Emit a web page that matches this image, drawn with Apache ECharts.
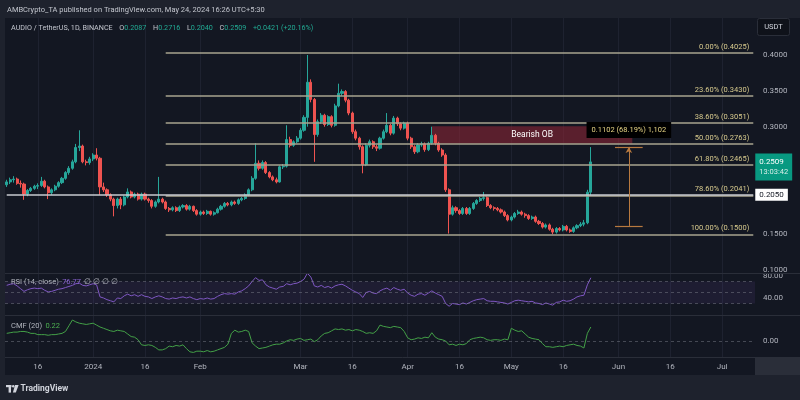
<!DOCTYPE html>
<html><head><meta charset="utf-8">
<script src="https://cdn.jsdelivr.net/npm/echarts@6/dist/echarts.min.js"></script>
<style>html,body{margin:0;padding:0;background:#1e222d;}#c{width:800px;height:400px;}</style>
</head><body><div id="c"></div>
<script>
// ---------- DATA ----------
const startDate = '2023-12-07';
const totalDays = 217; // visible daily slots (Dec 7 2023 .. Jul 10 2024)
const xTickDates = ['2023-12-16','2024-01-01','2024-01-16','2024-02-01','2024-03-01','2024-03-16','2024-04-01','2024-04-16','2024-05-01','2024-05-16','2024-06-01','2024-06-16','2024-07-01'];
const xTickLabels = ['16','2024','16','Feb','Mar','16','Apr','16','May','16','Jun','16','Jul'];

// [open, close, low, high]
const candles = [
[0.219,0.223,0.216,0.226],[0.223,0.226,0.220,0.229],[0.226,0.227,0.222,0.231],[0.227,0.221,0.219,0.229],[0.221,0.220,0.215,0.225],
[0.220,0.206,0.198,0.222],[0.206,0.211,0.203,0.213],[0.211,0.214,0.209,0.216],[0.214,0.217,0.212,0.219],[0.217,0.218,0.213,0.221],
[0.218,0.224,0.216,0.230],[0.224,0.216,0.214,0.226],[0.216,0.208,0.199,0.218],[0.208,0.212,0.205,0.214],[0.212,0.217,0.210,0.219],
[0.217,0.222,0.215,0.224],[0.222,0.228,0.220,0.230],[0.228,0.236,0.226,0.238],[0.236,0.242,0.233,0.245],[0.242,0.251,0.240,0.254],
[0.251,0.271,0.249,0.276],[0.271,0.273,0.266,0.295],[0.273,0.251,0.249,0.275],[0.251,0.250,0.246,0.254],[0.250,0.255,0.247,0.258],
[0.255,0.2605,0.252,0.263],[0.2605,0.256,0.253,0.270],[0.256,0.216,0.205,0.258],[0.216,0.212,0.209,0.222],[0.212,0.205,0.202,0.214],
[0.205,0.199,0.196,0.207],[0.199,0.190,0.175,0.201],[0.190,0.199,0.186,0.201],[0.199,0.191,0.185,0.202],[0.191,0.202,0.189,0.204],
[0.202,0.209,0.200,0.214],[0.209,0.202,0.200,0.211],[0.202,0.206,0.200,0.208],[0.206,0.199,0.197,0.208],[0.199,0.206,0.197,0.208],
[0.206,0.199,0.197,0.208],[0.199,0.197,0.194,0.201],[0.197,0.189,0.186,0.199],[0.189,0.195,0.187,0.197],[0.195,0.199,0.193,0.230],
[0.199,0.195,0.193,0.201],[0.195,0.186,0.184,0.197],[0.186,0.184,0.181,0.188],[0.184,0.187,0.182,0.189],[0.187,0.183,0.181,0.189],
[0.183,0.188,0.181,0.190],[0.188,0.190,0.186,0.192],[0.190,0.185,0.183,0.192],[0.185,0.189,0.183,0.191],[0.189,0.183,0.181,0.190],
[0.183,0.178,0.176,0.185],[0.178,0.181,0.176,0.183],[0.181,0.179,0.177,0.183],[0.179,0.182,0.177,0.184],[0.182,0.178,0.176,0.183],
[0.178,0.180,0.176,0.182],[0.180,0.185,0.179,0.187],[0.185,0.189,0.183,0.191],[0.189,0.193,0.187,0.195],[0.193,0.191,0.189,0.195],
[0.191,0.195,0.189,0.197],[0.195,0.193,0.191,0.197],[0.193,0.198,0.191,0.200],[0.198,0.200,0.196,0.202],[0.200,0.205,0.198,0.207],
[0.205,0.212,0.203,0.214],[0.212,0.228,0.210,0.231],[0.228,0.249,0.226,0.277],[0.249,0.242,0.239,0.253],[0.242,0.250,0.240,0.253],
[0.250,0.236,0.234,0.252],[0.236,0.230,0.228,0.238],[0.230,0.226,0.224,0.232],[0.226,0.223,0.221,0.229],[0.223,0.244,0.222,0.246],
[0.244,0.245,0.241,0.248],[0.245,0.282,0.243,0.302],[0.282,0.274,0.271,0.286],[0.274,0.279,0.272,0.281],[0.279,0.284,0.277,0.287],
[0.284,0.295,0.282,0.298],[0.295,0.313,0.293,0.316],[0.313,0.362,0.300,0.400],[0.362,0.338,0.334,0.366],[0.338,0.289,0.251,0.340],
[0.289,0.307,0.286,0.310],[0.307,0.316,0.304,0.319],[0.316,0.303,0.300,0.318],[0.303,0.314,0.301,0.316],[0.314,0.302,0.299,0.316],
[0.302,0.329,0.300,0.332],[0.329,0.3465,0.327,0.360],[0.3465,0.349,0.343,0.352],[0.349,0.337,0.334,0.351],[0.337,0.319,0.316,0.339],
[0.319,0.293,0.290,0.321],[0.293,0.284,0.281,0.296],[0.284,0.272,0.268,0.286],[0.272,0.247,0.235,0.274],[0.247,0.274,0.245,0.277],
[0.274,0.279,0.271,0.282],[0.279,0.272,0.269,0.281],[0.272,0.270,0.266,0.275],[0.270,0.284,0.268,0.286],[0.284,0.293,0.282,0.296],
[0.293,0.302,0.291,0.319],[0.302,0.291,0.288,0.304],[0.291,0.312,0.289,0.315],[0.312,0.304,0.301,0.314],[0.304,0.298,0.295,0.306],
[0.298,0.305,0.296,0.307],[0.305,0.284,0.281,0.307],[0.284,0.272,0.269,0.286],[0.272,0.265,0.262,0.274],[0.265,0.2745,0.263,0.277],
[0.2745,0.276,0.272,0.279],[0.276,0.268,0.265,0.278],[0.268,0.277,0.266,0.279],[0.277,0.288,0.275,0.300],[0.288,0.277,0.274,0.290],
[0.277,0.2675,0.265,0.279],[0.2675,0.2605,0.258,0.270],[0.2605,0.212,0.209,0.263],[0.212,0.178,0.151,0.214],[0.178,0.187,0.176,0.190],
[0.187,0.183,0.180,0.189],[0.183,0.179,0.177,0.185],[0.179,0.186,0.177,0.188],[0.186,0.179,0.177,0.188],[0.179,0.186,0.177,0.188],
[0.186,0.193,0.184,0.195],[0.193,0.197,0.191,0.199],[0.197,0.200,0.195,0.202],[0.200,0.201,0.197,0.209],[0.201,0.190,0.188,0.203],
[0.190,0.187,0.185,0.192],[0.187,0.186,0.183,0.189],[0.186,0.184,0.182,0.188],[0.184,0.181,0.179,0.186],[0.181,0.176,0.174,0.183],
[0.176,0.170,0.168,0.178],[0.170,0.174,0.168,0.176],[0.174,0.179,0.172,0.181],[0.179,0.181,0.177,0.184],[0.181,0.178,0.176,0.183],
[0.178,0.176,0.173,0.180],[0.176,0.172,0.170,0.178],[0.172,0.174,0.170,0.176],[0.174,0.168,0.166,0.176],[0.168,0.165,0.163,0.170],
[0.165,0.160,0.158,0.167],[0.160,0.163,0.158,0.165],[0.163,0.157,0.155,0.165],[0.157,0.153,0.150,0.159],[0.153,0.158,0.151,0.160],
[0.158,0.156,0.154,0.160],[0.156,0.161,0.154,0.163],[0.161,0.156,0.154,0.163],[0.156,0.154,0.152,0.158],[0.154,0.159,0.152,0.161],
[0.159,0.162,0.157,0.164],[0.162,0.164,0.160,0.167],[0.164,0.166,0.161,0.170],[0.166,0.2087,0.164,0.212],[0.2087,0.2509,0.2040,0.2716]
];

const rsi = [
63,65,66,62,57,52,55,57,58,57,
58,54,51,52,54,56,57,59,61,63,
66,67,63,62,64,66,64,42,40,37,
35,33,40,39,44,47,44,46,43,46,
43,42,39,42,44,42,39,38,40,39,
41,42,40,42,39,37,39,38,40,38,
39,43,46,48,47,48,47,51,53,57,
62,70,77,72,73,64,60,58,56,60,
61,66,64,66,67,70,74,85,78,62,
60,63,59,61,58,62,64,65,62,58,
54,51,48,41,50,52,49,48,53,56,
58,54,59,56,54,56,49,45,43,47,
48,45,49,53,49,46,43,30,25,30,
29,28,31,29,32,35,37,38,39,35,
34,34,33,32,31,29,32,35,36,35,
34,33,34,31,30,28,31,29,27,32,
33,36,34,35,38,42,44,45,64,76.77
];

const cmf = [
0.12,0.13,0.14,0.14,0.15,0.15,0.14,0.12,0.12,0.10,
0.10,0.10,0.09,0.10,0.10,0.11,0.12,0.15,0.24,0.33,
0.30,0.28,0.27,0.26,0.27,0.28,0.25,0.22,0.20,0.18,
0.16,0.15,0.17,0.16,0.15,0.11,0.07,0.06,0.02,-0.06,
-0.07,-0.06,-0.07,-0.10,-0.14,-0.14,-0.12,-0.08,-0.09,-0.07,
-0.08,-0.06,-0.12,-0.17,-0.18,-0.16,-0.16,-0.17,-0.15,-0.17,
-0.16,-0.14,-0.12,-0.10,-0.05,0.12,0.17,0.14,0.15,0.17,
0.15,-0.03,-0.08,-0.12,-0.11,-0.10,-0.08,-0.06,-0.05,-0.05,
-0.03,0.00,0.02,0.01,0.03,0.04,0.01,0.02,0.03,-0.01,
0.02,0.08,0.12,0.13,0.16,0.19,0.18,0.19,0.17,0.18,
0.16,0.18,0.17,0.15,0.12,0.13,0.12,0.16,0.25,0.23,
0.22,0.21,0.23,0.22,0.21,0.15,0.05,0.02,0.03,0.05,
0.04,0.06,0.05,0.13,0.06,0.03,0.02,0.00,-0.06,-0.05,
-0.07,-0.05,-0.06,-0.04,0.02,0.04,0.05,0.06,0.05,0.02,
0.01,0.02,0.02,0.01,0.03,0.02,0.20,0.17,0.15,0.16,
0.11,0.06,0.04,0.03,0.02,-0.04,-0.09,-0.09,-0.10,-0.09,
-0.08,-0.09,-0.07,-0.06,-0.05,-0.07,-0.08,-0.11,0.12,0.22
];

const fibLevels = [0.4025,0.3430,0.3051,0.2763,0.2465,0.2041,0.1500];
const fibLabels = ['0.00% (0.4025)','23.60% (0.3430)','38.60% (0.3051)','50.00% (0.2763)','61.80% (0.2465)','78.60% (0.2041)','100.00% (0.1500)'];
const fibStartDate = '2024-01-22';
const hLineValue = 0.2050;
const lastPrice = 0.2509;
const lastTime = '13:03:42';
const obRange = [0.3005, 0.2763];
const obDates = ['2024-04-08','2024-06-05'];
const measureRange = [0.1616, 0.2718];
const measureDate = '2024-06-04';
const measureTickDates = ['2024-05-31','2024-06-08'];
const measureText = '0.1102 (68.19%) 1,102';
const rsiLevels = [70, 50, 30];
const rsiTicks = [80, 40];
const cmfTicks = [0];

// ---------- BUILD ----------
const categories = [];
const d0 = new Date(startDate + 'T00:00:00Z').getTime();
for (let k = 0; k < totalDays; k++) categories.push(new Date(d0 + k * 86400000).toISOString().slice(0, 10));
const lastCat = categories[categories.length - 1];
const tickMap = {}; xTickDates.forEach((d, k) => tickMap[d] = xTickLabels[k]);
const isTick = (idx, val) => Object.prototype.hasOwnProperty.call(tickMap, val);

const FONT = 'Roboto, "Liberation Sans", sans-serif';
const BG = '#131722', FRAME = '#1e222d', GRIDC = '#1e2230', SEP = '#2a2e39', TXT = '#b2b5be';
const UP = '#26a69a', DOWN = '#ef5350';
const FIBLINE = '#a9a58f', FIBTXT = '#d8cb8e', MEAS = '#b7793f';

function mkX(gi, showLabel) {
  return {
    type: 'category', gridIndex: gi, data: categories, boundaryGap: true,
    axisLine: { show: false }, axisTick: { show: false },
    axisLabel: { show: showLabel, interval: isTick, formatter: v => tickMap[v] || '', color: TXT, fontSize: 8, fontFamily: FONT, margin: 6 },
    splitLine: { show: true, interval: isTick, alignWithLabel: true, lineStyle: { color: GRIDC, width: 1 } }
  };
}
const near = (a, b) => Math.abs(a - b) < 1e-9;

const fibData = fibLevels.map((v, k) => [
  { coord: [fibStartDate, v], lineStyle: { color: FIBLINE, width: 1.5, type: 'solid' },
    label: { show: true, position: 'insideEndTop', formatter: fibLabels[k], color: FIBTXT, fontSize: 7.5, fontFamily: FONT, distance: [4, 2] } },
  { coord: [lastCat, v] }
]);
const hLine = [
  { coord: [categories[0], hLineValue], lineStyle: { color: '#c9cbd1', width: 1.5, type: 'solid' }, label: { show: false } },
  { coord: [lastCat, hLineValue] }
];
const measLines = [
  [{ coord: [measureDate, measureRange[0]], symbol: 'none', lineStyle: { color: MEAS, width: 1, type: 'solid' }, label: { show: false } },
   { coord: [measureDate, measureRange[1]], symbol: 'arrow', symbolSize: [5, 6] }],
  [{ coord: [measureTickDates[0], measureRange[1]], lineStyle: { color: MEAS, width: 1.2, type: 'solid' }, label: { show: false } },
   { coord: [measureTickDates[1], measureRange[1]] }],
  [{ coord: [measureTickDates[0], measureRange[0]], lineStyle: { color: MEAS, width: 1.2, type: 'solid' }, label: { show: false } },
   { coord: [measureTickDates[1], measureRange[0]] }]
];

const option = {
  animation: false,
  backgroundColor: BG,
  grid: [
    { left: 5, right: 45, top: 18, height: 255, outerBoundsMode: 'none' },
    { left: 5, right: 45, top: 273, height: 42, outerBoundsMode: 'none' },
    { left: 5, right: 45, top: 315, height: 42, outerBoundsMode: 'none' }
  ],
  xAxis: [mkX(0, false), mkX(1, false), mkX(2, true)],
  yAxis: [
    { type: 'value', gridIndex: 0, position: 'right', min: 0.09596, max: 0.4516, splitNumber: 7, scale: true,
      axisLine: { show: false }, axisTick: { show: false }, splitLine: { show: false },
      axisLabel: { color: TXT, fontSize: 8, fontFamily: FONT, margin: 8, formatter: v => (v > 0.099 && v < 0.41) ? v.toFixed(4) : '' } },
    { type: 'value', gridIndex: 1, position: 'right', min: 9.09, max: 85.45, splitNumber: 4, z: 20,
      axisLine: { show: false }, axisTick: { show: false }, splitLine: { show: false },
      axisLabel: { color: TXT, fontSize: 8, fontFamily: FONT, margin: 8, formatter: v => rsiTicks.some(t => near(t, v)) ? v.toFixed(2) : '' } },
    { type: 'value', gridIndex: 2, position: 'right', min: -0.2516, max: 0.4088, splitNumber: 3, z: 20,
      axisLine: { show: false }, axisTick: { show: false }, splitLine: { show: false },
      axisLabel: { color: TXT, fontSize: 8, fontFamily: FONT, margin: 8, formatter: v => cmfTicks.some(t => near(t, v)) ? '0.00' : '' } }
  ],
  series: [
    {
      type: 'candlestick', xAxisIndex: 0, yAxisIndex: 0, data: candles, barWidth: 2.6, clip: false,
      itemStyle: { color: UP, color0: DOWN, borderColor: UP, borderColor0: DOWN, borderWidth: 1 },
      markLine: { silent: true, symbol: ['none', 'none'], label: { show: false }, data: [...fibData, hLine, ...measLines] },
      markArea: { silent: true, itemStyle: { color: 'rgba(150,38,55,0.55)' },
        label: { show: true, position: 'inside', color: '#ffffff', fontSize: 8.5, fontFamily: FONT },
        data: [[{ coord: [obDates[0], obRange[0]], name: 'Bearish OB' }, { coord: [obDates[1], obRange[1]] }]] },
      markPoint: { silent: true, data: [
        { coord: [lastCat, lastPrice], symbol: 'rect', symbolSize: 0,
          label: { show: true, position: 'right', distance: 2, offset: [0, 5], backgroundColor: '#089981', padding: [3, 4, 3, 4], lineHeight: 10,
            formatter: '{a|' + lastPrice.toFixed(4) + '}\n{b|' + lastTime + '}',
            rich: { a: { color: '#ffffff', fontSize: 8, fontFamily: FONT, lineHeight: 11 }, b: { color: '#d9efe9', fontSize: 7.5, fontFamily: FONT, lineHeight: 10 } } } },
        { coord: [lastCat, hLineValue], symbol: 'rect', symbolSize: 0,
          label: { show: true, position: 'right', distance: 2, backgroundColor: '#ffffff', padding: [2, 4, 2, 4], color: '#131722', fontSize: 8, fontFamily: FONT,
            formatter: hLineValue.toFixed(4) } },
        { coord: [measureDate, measureRange[1]], symbol: 'rect', symbolSize: 0,
          label: { show: true, position: 'top', distance: 9, backgroundColor: '#000000', padding: [4, 5, 4, 5], color: '#e4d283', fontSize: 7.5, fontFamily: FONT,
            formatter: measureText } }
      ] }
    },
    {
      type: 'line', xAxisIndex: 1, yAxisIndex: 1, data: rsi, symbol: 'none', clip: false,
      lineStyle: { color: '#7e57c2', width: 1 },
      markArea: { silent: true, itemStyle: { color: 'rgba(126,87,194,0.10)' }, data: [[{ yAxis: rsiLevels[2] }, { yAxis: rsiLevels[0] }]] },
      markLine: { silent: true, symbol: ['none', 'none'], label: { show: false },
        lineStyle: { color: 'rgba(120,123,134,0.5)', type: [3, 3], width: 1 }, data: rsiLevels.map(v => ({ yAxis: v })) }
    },
    {
      type: 'line', xAxisIndex: 2, yAxisIndex: 2, data: cmf, symbol: 'none', clip: false,
      lineStyle: { color: '#43a047', width: 1 },
      markLine: { silent: true, symbol: ['none', 'none'], label: { show: false },
        lineStyle: { color: 'rgba(120,123,134,0.5)', type: [3, 3], width: 1 }, data: [{ yAxis: 0 }] }
    }
  ],
  graphic: { elements: [
    { type: 'rect', shape: { x: 755, y: 273, width: 45, height: 84 }, style: { fill: BG }, z: 10, silent: true },
    { type: 'line', shape: { x1: 5, y1: 273.5, x2: 800, y2: 273.5 }, style: { stroke: SEP, lineWidth: 1 }, z: 50, silent: true },
    { type: 'line', shape: { x1: 5, y1: 315.5, x2: 800, y2: 315.5 }, style: { stroke: SEP, lineWidth: 1 }, z: 50, silent: true },
    { type: 'line', shape: { x1: 5, y1: 357.5, x2: 800, y2: 357.5 }, style: { stroke: SEP, lineWidth: 1 }, z: 50, silent: true },
    { type: 'rect', shape: { x: 755, y: 358, width: 45, height: 17 }, style: { fill: SEP }, z: 50, silent: true },
    { type: 'rect', shape: { x: 0, y: 0, width: 800, height: 18 }, style: { fill: FRAME }, z: 100, silent: true },
    { type: 'rect', shape: { x: 0, y: 18, width: 5, height: 357 }, style: { fill: FRAME }, z: 100, silent: true },
    { type: 'rect', shape: { x: 0, y: 375, width: 800, height: 25 }, style: { fill: FRAME }, z: 100, silent: true },
    { type: 'text', z: 110, silent: true, style: { x: 7, y: 10, text: 'AMBCrypto_TA published on TradingView.com, May 24, 2024 16:26 UTC+5:30',
      fill: '#c3c6ce', fontSize: 7.5, fontFamily: FONT, verticalAlign: 'middle' } },
    { type: 'text', z: 110, silent: true, style: { x: 11, y: 28, verticalAlign: 'middle',
      text: '{g|AUDIO / TetherUS, 1D, BINANCE}  {g|O}{v|0.2087}  {g|H}{v|0.2716}  {g|L}{v|0.2040}  {g|C}{v|0.2509}  {v|+0.0421 (+20.16%)}',
      rich: { g: { fill: '#c3c6ce', fontSize: 7.2, fontFamily: FONT }, v: { fill: '#22ab94', fontSize: 7.2, fontFamily: FONT } } } },
    { type: 'rect', z: 110, silent: true, shape: { x: 757.5, y: 18.5, width: 32, height: 17, r: 2 }, style: { fill: '#0f121a', stroke: SEP, lineWidth: 1 } },
    { type: 'text', z: 111, silent: true, style: { x: 773.5, y: 27, text: 'USDT', fill: '#d1d4dc', fontSize: 7.5, fontFamily: FONT, align: 'center', verticalAlign: 'middle' } },
    { type: 'text', z: 110, silent: true, style: { x: 11, y: 282, verticalAlign: 'middle',
      text: '{g|RSI (14, close)} {p|76.77} {g|\u2205 \u2205 \u2205 \u2205}',
      rich: { g: { fill: '#b2b5be', fontSize: 7.5, fontFamily: FONT }, p: { fill: '#8a63d2', fontSize: 7.5, fontFamily: FONT } } } },
    { type: 'text', z: 110, silent: true, style: { x: 11, y: 326, verticalAlign: 'middle',
      text: '{g|CMF (20)} {c|0.22}',
      rich: { g: { fill: '#b2b5be', fontSize: 7.5, fontFamily: FONT }, c: { fill: '#4caf50', fontSize: 7.5, fontFamily: FONT } } } },
    { type: 'rect', z: 110, silent: true, shape: { x: 6, y: 385, width: 5.5, height: 2.2 }, style: { fill: '#d1d4dc' } },
    { type: 'rect', z: 110, silent: true, shape: { x: 8.6, y: 385, width: 2.4, height: 7.6 }, style: { fill: '#d1d4dc' } },
    { type: 'circle', z: 110, silent: true, shape: { cx: 13.2, cy: 386.2, r: 1.2 }, style: { fill: '#d1d4dc' } },
    { type: 'polygon', z: 110, silent: true, shape: { points: [[15, 385], [18.6, 385], [15.8, 392.6], [12.9, 392.6]] }, style: { fill: '#d1d4dc' } },
    { type: 'text', z: 110, silent: true, style: { x: 20.5, y: 389, text: 'TradingView', fill: '#d1d4dc', fontSize: 8.5, fontWeight: 'bold', fontFamily: FONT, verticalAlign: 'middle' } }
  ] }
};

const chart = echarts.init(document.getElementById('c'), null, { renderer: 'canvas' });
chart.setOption(option);
</script>
</body></html>
